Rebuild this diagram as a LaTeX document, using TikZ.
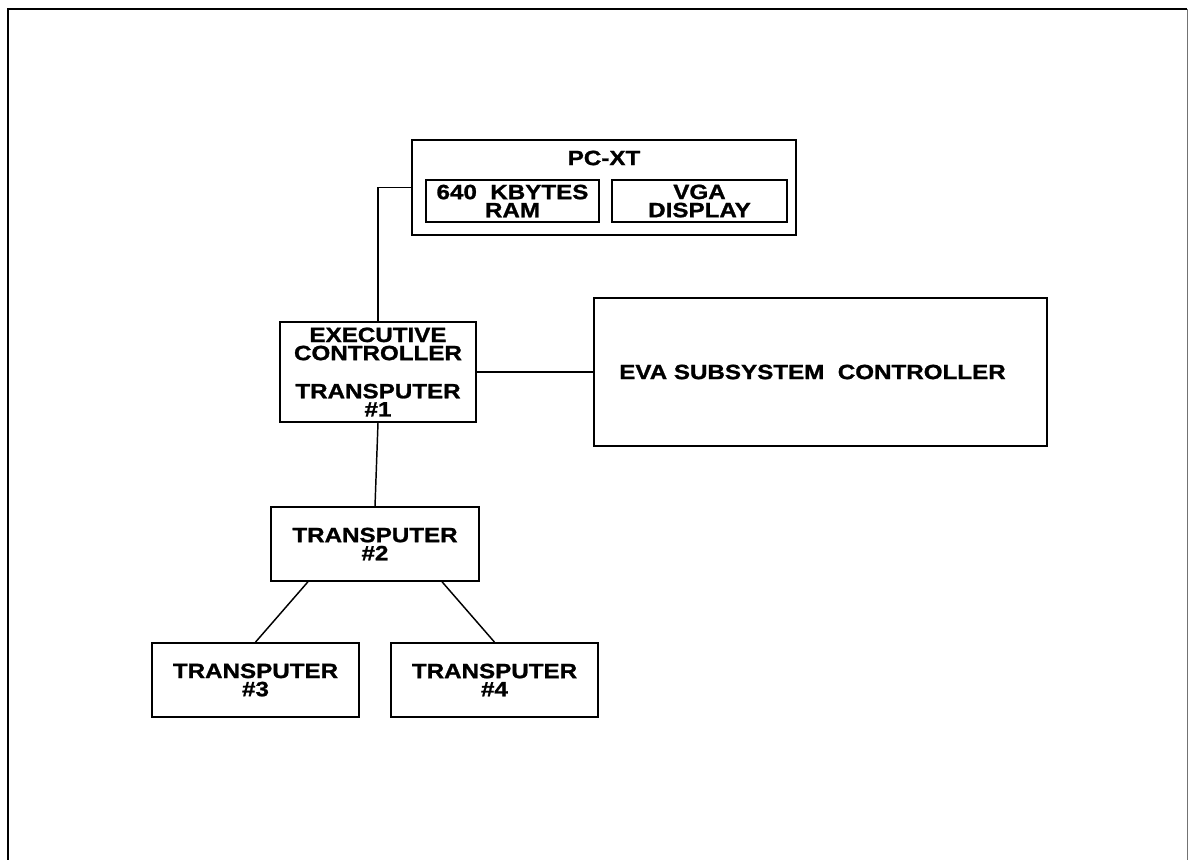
\documentclass[tikz,border=0pt]{standalone}
\usepackage{fontspec}
\setmainfont{Liberation Sans}[FakeStretch=1.17, BoldFeatures={FakeBold=1.2}]
\usetikzlibrary{calc}
\newcommand\boxlabelfont{\fontsize{15.5}{13.6}\selectfont\bfseries}
\begin{document}
\begin{tikzpicture}[x=0.75pt,y=-0.75pt,
  box/.style={draw, line width=1.3pt, inner sep=0pt, align=center,
    font=\boxlabelfont, anchor=center},
  caption/.style={inner sep=0pt, align=center, font=\boxlabelfont},
  wire/.style={line width=1.1pt}]
\useasboundingbox (0,0) rectangle (1189,860);

% page frame (open at the bottom)
\draw[line width=2.2pt] (8,860) -- (8,9) -- (1187,9);
\draw[line width=1pt, black!55] (1187.5,9) -- (1187.5,860);

% host computer with its two sub-units
\node[box, minimum width=288pt, minimum height=71.25pt] (pcxt) at (604,187.5) {};
\node[caption] (pctitle) at (604,158) {PC-XT};
\node[box, minimum width=129.75pt, minimum height=31.5pt] (ram) at (512.5,201)
  {640\ \ KBYTES\\RAM};
\node[box, minimum width=131.25pt, minimum height=31.5pt] (vga) at (699.5,201)
  {VGA\\DISPLAY};

% transputer network
\node[box, minimum width=147pt, minimum height=75pt] (exec) at (378,372)
  {EXECUTIVE\\CONTROLLER\\[15pt]TRANSPUTER\\\#1};
\node[box, minimum width=339.75pt, minimum height=111pt] (eva) at (820.5,372)
  {EVA SUBSYSTEM\ \ CONTROLLER\hspace{12pt}};
\node[box, minimum width=156pt, minimum height=55.5pt] (t2) at (375,544)
  {TRANSPUTER\\\#2};
\node[box, minimum width=155.25pt, minimum height=55.5pt] (t3) at (255.5,680)
  {TRANSPUTER\\\#3};
\node[box, minimum width=155.25pt, minimum height=55.5pt] (t4) at (494.5,680)
  {TRANSPUTER\\\#4};

% links
\draw[wire] (pcxt.west) -| (exec.north);
\draw[wire] (exec.east) -- (eva.west);
\draw[wire] (exec.south) -- (t2.north);
\draw[wire] ($(t2.south west)!0.18!(t2.south east)$) -- (t3.north);
\draw[wire] ($(t2.south west)!0.82!(t2.south east)$) -- (t4.north);
\end{tikzpicture}
\end{document}
